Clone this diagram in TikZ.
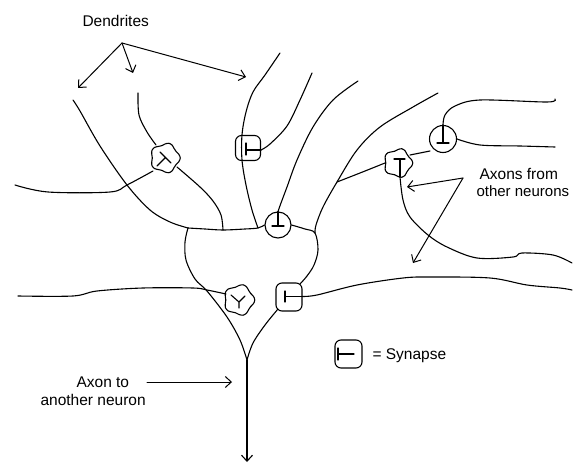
\documentclass[tikz,border=0pt]{standalone}
\usepackage{fontspec}
\setmainfont{Liberation Sans}
\usetikzlibrary{arrows.meta}
\newcommand\synwob[3]{\draw plot[smooth cycle, domain=0:345, samples=24, variable=\t] ({#1+(#3+1.3*cos(5*\t))*cos(\t)},{#2+(#3+1.3*cos(5*\t))*sin(\t)});}
\begin{document}
\begin{tikzpicture}[x=1pt,y=-1pt, line width=1.1pt, line join=round, line cap=round,
  syncirc/.style={draw, circle, minimum size=26pt, inner sep=0pt},
  synbox/.style={draw, rectangle, rounded corners=6pt, minimum width=26pt, minimum height=27pt, inner sep=0pt},
  lbl/.style={font=\fontsize{15.5}{17}\selectfont, inner sep=0pt, anchor=base west},
  pointer/.style={-{Straight Barb[length=6pt,width=11pt]}, line width=1pt}]
\useasboundingbox (0,0) rectangle (573,465);

% ---------- synapses ----------
\coordinate (S1) at (165,158); \synwob{165}{158}{14}
\node[synbox, minimum width=25pt, minimum height=25pt] (S2) at (248,148) {};
\node[syncirc] (S3) at (278,225) {};
\coordinate (S4) at (398,163); \synwob{398}{163}{13.5}
\node[syncirc, minimum size=27pt] (S5) at (443,139) {};
\coordinate (S6) at (239,300); \synwob{239}{300}{14.5}
\node[synbox, minimum height=28pt] (S7) at (289,297) {};
\node[synbox, minimum width=27pt, minimum height=28pt] (SL) at (348.5,354) {};

% terminal marks inside synapses
\draw (160,152) -- (171,163) (165.5,157.5) -- (157,166);
\draw (246,143) -- (246,155) (246,150) -- (S2.east |- 0,150);
\draw (S3.north) -- (278,226) (272,226) -- (284,226);
\draw (394,159) -- (405,159) (400,159) -- (400,177);
\draw (S5.north) -- (443,143) (437,143) -- (449,143);
\draw (231,295) -- (239,302) (245,296) -- (239,302) (239,302) -- (239,308);
\draw (285,291) -- (285,302) (285,296.5) -- (302,296.5);
\draw (338,348) -- (338,360) (338,354) -- (354,354);

% ---------- soma ----------
\draw plot[smooth, tension=0.55] coordinates {(188,228) (205,229) (223,230) (245,229) (258,228) (S3.west)};
\draw plot[smooth, tension=0.55] coordinates {(188,228) (185,242) (186,260) (195,279) (207,291) (227,317) (240,340) (247,360)};
\draw plot[smooth, tension=0.55] coordinates {(S3.east) (305,229) (315,233) (318,250) (314,265) (307,276) (300,284)};
\draw plot[smooth, tension=0.55] coordinates {(278,309) (265,325) (253,343) (247,360)};
% axon out
\coordinate (hill) at (247,360);
\coordinate (axend) at (247,462);
\draw[pointer, line width=1.1pt] (hill) -- (axend);

% ---------- dendrites ----------
\draw plot[smooth, tension=0.55] coordinates {(73,100) (80,111) (100,146) (127,185) (150,210) (170,222) (188,228)};
\draw plot[smooth, tension=0.55] coordinates {(138,93) (139,115) (147,132) (156,145)};
\draw plot[smooth, tension=0.55] coordinates {(177,167) (200,187) (213,201) (221,215) (223,230)};
\draw plot[smooth, tension=0.55] coordinates {(280,53) (265,75) (253,92) (246,112) (242,135) (242,160) (246,185) (252,210) (258,228)};
\draw plot[smooth, tension=0.55] coordinates {(438,93) (413,107) (380,127) (357,150) (337,182) (323,207) (316,225) (315,233)};

% ---------- axons from other neurons ----------
\draw plot[smooth, tension=0.55] coordinates {(15,185) (48,192) (110,192) (127,185) (153,171)};
\draw plot[smooth, tension=0.55] coordinates {(312,73) (300,100) (287,126) (270,144) (S2.east |- 0,150)};
\draw plot[smooth, tension=0.55] coordinates {(358,81) (333,100) (313,127) (297,160) (287,187) (281,203) (S3.north)};
\draw plot[smooth, tension=0.55] coordinates {(337,182) (360,173) (385,163)};
\draw plot[smooth, tension=0.55] coordinates {(410,155) (430,151)};
\draw plot[smooth, tension=0.55] coordinates {(S5.east) (480,145) (520,146) (555,147)};
\draw plot[smooth, tension=0.55] coordinates {(S5.north) (445,115) (455,106) (480,100) (547,102) (555,99)};
\draw plot[smooth, tension=0.55] coordinates {(400,177) (403,200) (410,217) (428,235) (447,247) (477,258) (513,257) (522,253) (553,255) (572,263)};
\draw plot[smooth, tension=0.55] coordinates {(572,290) (560,288) (527,285) (490,278) (430,277) (403,278) (357,285) (317,295) (302,296.5)};
\draw plot[smooth, tension=0.55] coordinates {(18,296) (73,296) (97,291) (143,288) (193,288) (207,290) (226,294)};

% ---------- labels ----------
\node[lbl] (dlab) at (82,27) {Dendrites};
\coordinate (dapex) at (122,43);
\coordinate (dt1) at (78,88);
\coordinate (dt2) at (133,73);
\coordinate (dt3) at (246,77);
\draw[pointer] (dapex) -- (dt1);
\draw[pointer] (dapex) -- (dt2);
\draw[pointer] (dapex) -- (dt3);

\node[lbl] (alab1) at (479,180) {Axons from};
\node[lbl, font=\fontsize{15}{17}\selectfont] (alab2) at (476,197) {other neurons};
\coordinate (aapex) at (463,178);
\coordinate (at1) at (407,187);
\coordinate (at2) at (413,263);
\draw[pointer] (aapex) -- (at1);
\draw[pointer] (aapex) -- (at2);

\node[lbl] (xlab1) at (76,387) {Axon to};
\node[lbl] (xlab2) at (40,405) {another neuron};
\coordinate (xs) at (147,382);
\coordinate (xt) at (232,382);
\draw[pointer] (xs) -- (xt);

\node[lbl] (slab) at (372,359) {= Synapse};
\end{tikzpicture}
\end{document}
